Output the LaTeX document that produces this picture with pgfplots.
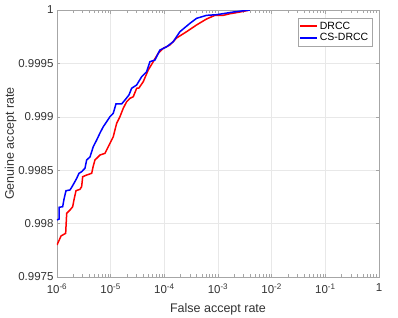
\documentclass[border=0pt]{standalone}
\usepackage{pgfplots}
\pgfplotsset{compat=1.18}
\usepackage{fontspec}
\setmainfont{Liberation Sans}
\begin{document}
\begin{tikzpicture}
\begin{axis}[
  scale only axis,
  width=322pt, height=267pt,
  xmode=log,
  xmin=1e-6, xmax=1,
  ymin=0.9975, ymax=1,
  xtick={1e-6,1e-5,1e-4,1e-3,1e-2,1e-1,1},
  xticklabels={10\textsuperscript{-6},10\textsuperscript{-5},10\textsuperscript{-4},10\textsuperscript{-3},10\textsuperscript{-2},10\textsuperscript{-1},1},
  ytick={0.9975,0.998,0.9985,0.999,0.9995,1},
  yticklabels={0.9975,0.998,0.9985,0.999,0.9995,1},
  minor xtick={},
  grid=major,
  major grid style={gray!18, line width=0.5pt},
  axis line style={gray!70, line width=0.7pt},
  tick style={gray!70, line width=0.6pt},
  tick align=inside,
  major tick length=3.5pt,
  every tick label/.append style={font=\fontsize{11.5}{12}\selectfont, text=black!80},
  xticklabel style={yshift=-3pt},
  xlabel={False accept rate},
  ylabel={Genuine accept rate},
  label style={font=\fontsize{12.5}{13}\selectfont, text=black!80},
  xlabel style={yshift=-3pt},
  ylabel style={yshift=-5pt},
  legend style={at={(1,1)}, anchor=north east, xshift=-7pt, yshift=-8pt,
    draw=gray!70, font=\fontsize{10.5}{11}\selectfont, inner sep=1.5pt,
    row sep=-1pt, legend cell align=left},
  legend image code/.code={\draw[#1] (0cm,0cm) -- (0.6cm,0cm);},
]
\addplot[color=red, line width=1.5pt] coordinates {
(1e-6,0.99780) (1.10e-6,0.997846) (1.187e-6,0.997884) (1.45e-6,0.997909)
(1.516e-6,0.998096) (1.746e-6,0.998127) (1.96e-6,0.998158) (2.07e-6,0.998221)
(2.26e-6,0.998308) (2.68e-6,0.998321) (2.88e-6,0.998346) (3.01e-6,0.998439)
(3.57e-6,0.998455) (4.43e-6,0.998471) (4.74e-6,0.998539) (5.10e-6,0.998596)
(6.32e-6,0.998642) (7.83e-6,0.998658) (9.70e-6,0.998752) (1.118e-5,0.998814)
(1.293e-5,0.998939) (1.49e-5,0.999001) (1.716e-5,0.999080) (1.986e-5,0.999141)
(2.288e-5,0.999173) (2.636e-5,0.999188) (3.05e-5,0.999267) (3.37e-5,0.999270)
(4.05e-5,0.999329) (5.01e-5,0.999438) (6.21e-5,0.999516) (7.70e-5,0.999595)
(9.54e-5,0.999641) (1.27e-4,0.999672) (1.694e-4,0.999738) (2.60e-4,0.999797)
(3.99e-4,0.999860) (6.13e-4,0.999916) (8.75e-4,0.999950) (1.25e-3,0.999950)
(1.665e-3,0.999965) (2.56e-3,0.999981) (3.93e-3,1.0)
};
\addlegendentry{DRCC}
\addplot[color=blue, line width=1.5pt] coordinates {
(1e-6,0.998034) (1.10e-6,0.998043) (1.10e-6,0.998153) (1.276e-6,0.998158)
(1.35e-6,0.998228) (1.47e-6,0.998308) (1.746e-6,0.998315) (1.878e-6,0.998340)
(2.07e-6,0.998377) (2.33e-6,0.998424) (2.57e-6,0.998471) (2.88e-6,0.998486)
(3.32e-6,0.998518) (3.57e-6,0.998596) (4.12e-6,0.998624) (4.74e-6,0.998720)
(5.49e-6,0.998783) (6.32e-6,0.998848) (7.28e-6,0.998907) (8.42e-6,0.998954)
(9.70e-6,0.999001) (1.118e-5,0.999033) (1.255e-5,0.999120) (1.60e-5,0.999120)
(1.846e-5,0.999157) (2.19e-5,0.999204) (2.46e-5,0.999267) (3.05e-5,0.999298)
(3.78e-5,0.999375) (4.68e-5,0.999422) (5.39e-5,0.999516) (6.68e-5,0.999532)
(8.28e-5,0.999625) (1.104e-4,0.999656) (1.464e-4,0.999703) (1.952e-4,0.999797)
(3.00e-4,0.999875) (3.99e-4,0.999922) (6.13e-4,0.999950) (9.42e-4,0.999956)
(1.92e-3,0.999981) (3.93e-3,1.0)
};
\addlegendentry{CS-DRCC}
\end{axis}
\pgfresetboundingbox
\path ([xshift=-57pt,yshift=-40pt]current axis.south west) rectangle ([xshift=19pt,yshift=10pt]current axis.north east);
\end{tikzpicture}
\end{document}
